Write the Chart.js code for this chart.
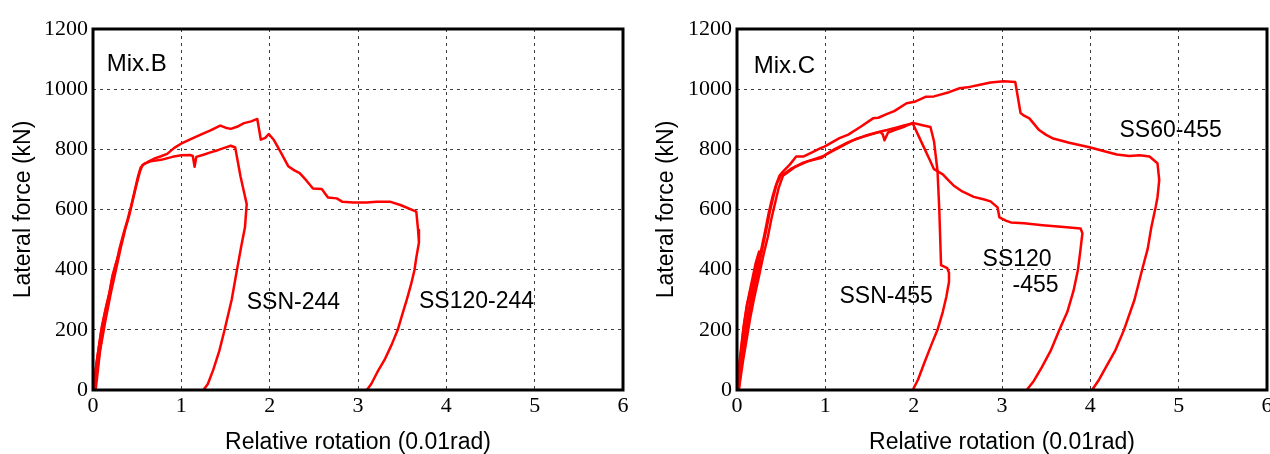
<!DOCTYPE html>
<html>
<head>
<meta charset="utf-8">
<script src="https://cdn.jsdelivr.net/npm/chart.js@4.4.0/dist/chart.umd.min.js"></script>
<style>
  html, body { margin: 0; padding: 0; background: #fff; }
  #wrap { position: relative; width: 1270px; height: 454px; overflow: hidden; }
  canvas { position: absolute; top: 0; }
  #chartB { left: 0; }
  #chartC { left: 635px; }
</style>
</head>
<body>
<div id="wrap">
  <canvas id="chartB" width="635" height="454"></canvas>
  <canvas id="chartC" width="635" height="454"></canvas>
</div>
<script>
// Axis ranges
const rotRange = [0, 6];
const forceRange = [0, 1200];

// Mix.B - SSN-244 (relative rotation 0.01rad / lateral force kN)
const ssn244Rot = [0, 0.04, 0.09, 0.13, 0.17, 0.22, 0.26, 0.21, 0.12, 0.05, 0.02, 0.07, 0.12, 0.18, 0.24, 0.30, 0.35, 0.39, 0.43, 0.47, 0.51, 0.54, 0.58, 0.65, 0.77, 0.90, 1.0, 1.10, 1.13, 1.15, 1.17, 1.25, 1.33, 1.42, 1.52, 1.56, 1.61, 1.67, 1.74, 1.72, 1.68, 1.63, 1.57, 1.49, 1.43, 1.36, 1.30, 1.25];
const ssn244Force = [0, 90, 190, 250, 300, 370, 420, 360, 210, 80, 0, 120, 210, 300, 390, 470, 525, 565, 610, 660, 710, 740, 752, 760, 765, 775, 780, 781, 778, 742, 775, 782, 790, 798, 808, 812, 806, 710, 618, 540, 480, 400, 300, 200, 130, 66, 20, 0];

// Mix.B - SS120-244
const ss120244Rot = [0, 0.05, 0.10, 0.15, 0.20, 0.24, 0.28, 0.22, 0.13, 0.06, 0.03, 0.08, 0.14, 0.20, 0.26, 0.32, 0.37, 0.41, 0.45, 0.49, 0.53, 0.56, 0.62, 0.70, 0.77, 0.84, 0.92, 1.01, 1.10, 1.22, 1.33, 1.44, 1.50, 1.56, 1.63, 1.71, 1.79, 1.86, 1.90, 1.95, 1.99, 2.05, 2.12, 2.21, 2.28, 2.34, 2.42, 2.49, 2.59, 2.66, 2.76, 2.82, 2.95, 3.10, 3.21, 3.36, 3.48, 3.66, 3.68, 3.69, 3.66, 3.64, 3.60, 3.55, 3.50, 3.45, 3.38, 3.30, 3.22, 3.15, 3.10];
const ss120244Force = [0, 110, 210, 280, 340, 390, 440, 380, 230, 90, 0, 130, 230, 320, 400, 480, 540, 580, 630, 680, 725, 748, 758, 770, 777, 785, 805, 821, 833, 849, 863, 879, 872, 868, 875, 887, 893, 901, 832, 838, 851, 830, 793, 744, 730, 721, 695, 670, 668, 640, 637, 626, 623, 623, 626, 626, 615, 593, 532, 490, 440, 400, 350, 298, 250, 200, 150, 100, 60, 20, 0];

// Mix.C - SSN-455
const ssn455Rot = [0, 0.04, 0.08, 0.12, 0.17, 0.22, 0.26, 0.21, 0.12, 0.05, 0.02, 0.06, 0.11, 0.17, 0.23, 0.28, 0.33, 0.37, 0.41, 0.45, 0.50, 0.55, 0.62, 0.75, 0.90, 0.98, 1.10, 1.25, 1.35, 1.50, 1.62, 1.65, 1.67, 1.71, 1.80, 1.90, 1.99, 2.10, 2.19, 2.23, 2.27, 2.29, 2.31, 2.38, 2.40, 2.40, 2.37, 2.33, 2.27, 2.20, 2.12, 2.05, 1.99];
const ssn455Force = [0, 110, 220, 290, 350, 410, 450, 380, 220, 80, 0, 120, 220, 310, 390, 460, 530, 590, 640, 685, 716, 722, 737, 756, 770, 778, 800, 822, 835, 848, 858, 850, 830, 856, 866, 876, 888, 880, 874, 827, 728, 600, 415, 405, 390, 360, 310, 260, 200, 150, 90, 35, 0];

// Mix.C - SS120-455
const ss120455Rot = [0, 0.05, 0.09, 0.14, 0.19, 0.24, 0.28, 0.24, 0.15, 0.07, 0.02, 0.07, 0.13, 0.19, 0.25, 0.30, 0.35, 0.39, 0.43, 0.47, 0.52, 0.58, 0.66, 0.80, 0.96, 1.02, 1.15, 1.30, 1.45, 1.58, 1.70, 1.80, 1.90, 1.99, 2.05, 2.12, 2.18, 2.23, 2.33, 2.40, 2.46, 2.55, 2.68, 2.80, 2.87, 2.95, 2.97, 3.05, 3.10, 3.25, 3.46, 3.70, 3.89, 3.91, 3.89, 3.86, 3.81, 3.74, 3.65, 3.55, 3.45, 3.36, 3.28];
const ss120455Force = [0, 100, 190, 270, 330, 390, 430, 380, 240, 100, 0, 110, 210, 300, 380, 450, 510, 570, 620, 670, 712, 725, 742, 760, 772, 785, 805, 828, 845, 856, 864, 872, 880, 886, 848, 804, 766, 734, 717, 695, 678, 660, 642, 633, 627, 607, 574, 562, 557, 554, 548, 542, 537, 521, 470, 400, 330, 260, 200, 130, 75, 30, 0];

// Mix.C - SS60-455
const ss60455Rot = [0, 0.03, 0.07, 0.11, 0.16, 0.21, 0.25, 0.21, 0.12, 0.05, 0.01, 0.05, 0.10, 0.16, 0.22, 0.27, 0.32, 0.36, 0.40, 0.44, 0.48, 0.52, 0.60, 0.67, 0.75, 0.85, 0.94, 0.99, 1.07, 1.16, 1.26, 1.40, 1.54, 1.60, 1.70, 1.78, 1.92, 2.01, 2.14, 2.23, 2.40, 2.52, 2.61, 2.75, 2.87, 3.02, 3.15, 3.21, 3.25, 3.31, 3.42, 3.50, 3.57, 3.76, 3.99, 4.18, 4.30, 4.44, 4.56, 4.67, 4.76, 4.78, 4.76, 4.74, 4.69, 4.65, 4.59, 4.50, 4.38, 4.28, 4.18, 4.10, 4.02];
const ss60455Force = [0, 100, 200, 280, 350, 420, 460, 400, 240, 100, 0, 100, 200, 300, 390, 460, 530, 590, 640, 680, 712, 726, 750, 776, 776, 790, 803, 809, 822, 837, 849, 875, 903, 905, 918, 927, 953, 958, 975, 976, 990, 1003, 1006, 1015, 1022, 1026, 1024, 921, 912, 903, 864, 848, 837, 822, 807, 792, 783, 778, 780, 776, 754, 698, 640, 609, 540, 470, 404, 300, 199, 130, 78, 35, 0];

// Y tick labels, written without thousands separator
const forceTickLabels = ["0", "200", "400", "600", "800", "1000", "1200"];

// Text labels placed in data units
const mixBLabels = [
  { text: "Mix.B", x: 0.155, y: 1060, size: 24 },
  { text: "SSN-244", x: 1.74, y: 268, size: 23 },
  { text: "SS120-244", x: 3.69, y: 272, size: 23 },
];
const mixCLabels = [
  { text: "Mix.C", x: 0.19, y: 1055, size: 24 },
  { text: "SSN-455", x: 1.16, y: 288, size: 23 },
  { text: "SS120", x: 2.78, y: 413, size: 23 },
  { text: "-455", x: 3.12, y: 325, size: 23 },
  { text: "SS60-455", x: 4.33, y: 842, size: 23 },
];

const SANS = "'Liberation Sans', Arial, sans-serif";
const SERIF = "'Liberation Serif', 'Times New Roman', serif";

// Draws curve labels and the box frame
const framePlugin = {
  id: "frameLabels",
  afterDraw(chart, args, opts) {
    const { ctx, chartArea: a } = chart;
    const x = chart.scales.x;
    const y = chart.scales.y;
    ctx.save();
    ctx.fillStyle = "#000";
    ctx.textAlign = "left";
    ctx.textBaseline = "alphabetic";
    opts.items.forEach((it) => {
      ctx.font = `${it.size}px ${SANS}`;
      ctx.fillText(it.text, x.getPixelForValue(it.x), y.getPixelForValue(it.y));
    });
    ctx.lineWidth = 3;
    ctx.strokeStyle = "#000";
    ctx.strokeRect(a.left, a.top, a.right - a.left, a.bottom - a.top);
    ctx.restore();
  },
};

function toPoints(rot, force) {
  return rot.map((r, i) => ({ x: r, y: force[i] }));
}

function makeChart(id, series, labels, yAxisWidth, titlePad, rightPad) {
  const datasets = series.map(([rot, force]) => ({
    data: toPoints(rot, force),
    borderColor: "#ff0000",
    borderWidth: 2.5,
    pointRadius: 0,
    showLine: true,
    fill: false,
    tension: 0,
    borderJoinStyle: "round",
  }));

  return new Chart(document.getElementById(id), {
    type: "scatter",
    data: { datasets },
    plugins: [framePlugin],
    options: {
      responsive: false,
      animation: false,
      layout: { padding: { top: 29, right: rightPad, bottom: 0, left: 0 } },
      plugins: {
        legend: { display: false },
        tooltip: { enabled: false },
        frameLabels: { items: labels },
      },
      scales: {
        x: {
          type: "linear",
          min: rotRange[0],
          max: rotRange[1],
          ticks: {
            stepSize: 1,
            color: "#000",
            padding: 3,
            maxRotation: 0,
            font: { family: SERIF, size: 22 },
          },
          grid: { color: "rgba(0,0,0,0.75)", lineWidth: 1, drawTicks: false },
          border: { display: false, dash: [3, 4] },
          title: {
            display: true,
            text: "Relative rotation (0.01rad)",
            color: "#000",
            font: { family: SANS, size: 23, lineHeight: 1 },
            padding: 0,
          },
          afterFit(scale) {
            scale.height = 64;
            scale.paddingLeft = 0;
            scale.paddingRight = 0;
          },
        },
        y: {
          type: "linear",
          min: forceRange[0],
          max: forceRange[1],
          ticks: {
            stepSize: 200,
            color: "#000",
            padding: 5,
            font: { family: SERIF, size: 22 },
            callback: (value, index) => forceTickLabels[index],
          },
          grid: { color: "rgba(0,0,0,0.75)", lineWidth: 1, drawTicks: false },
          border: { display: false, dash: [3, 4] },
          title: {
            display: true,
            text: "Lateral force (kN)",
            color: "#000",
            font: { family: SANS, size: 23, lineHeight: 1.2 },
            padding: { top: titlePad, bottom: 0 },
          },
          afterFit(scale) {
            scale.width = yAxisWidth;
          },
        },
      },
    },
  });
}

makeChart(
  "chartB",
  [
    [ssn244Rot, ssn244Force],
    [ss120244Rot, ss120244Force],
  ],
  mixBLabels,
  93,
  10,
  12
);

makeChart(
  "chartC",
  [
    [ssn455Rot, ssn455Force],
    [ss120455Rot, ss120455Force],
    [ss60455Rot, ss60455Force],
  ],
  mixCLabels,
  102,
  18,
  3
);
</script>
</body>
</html>
